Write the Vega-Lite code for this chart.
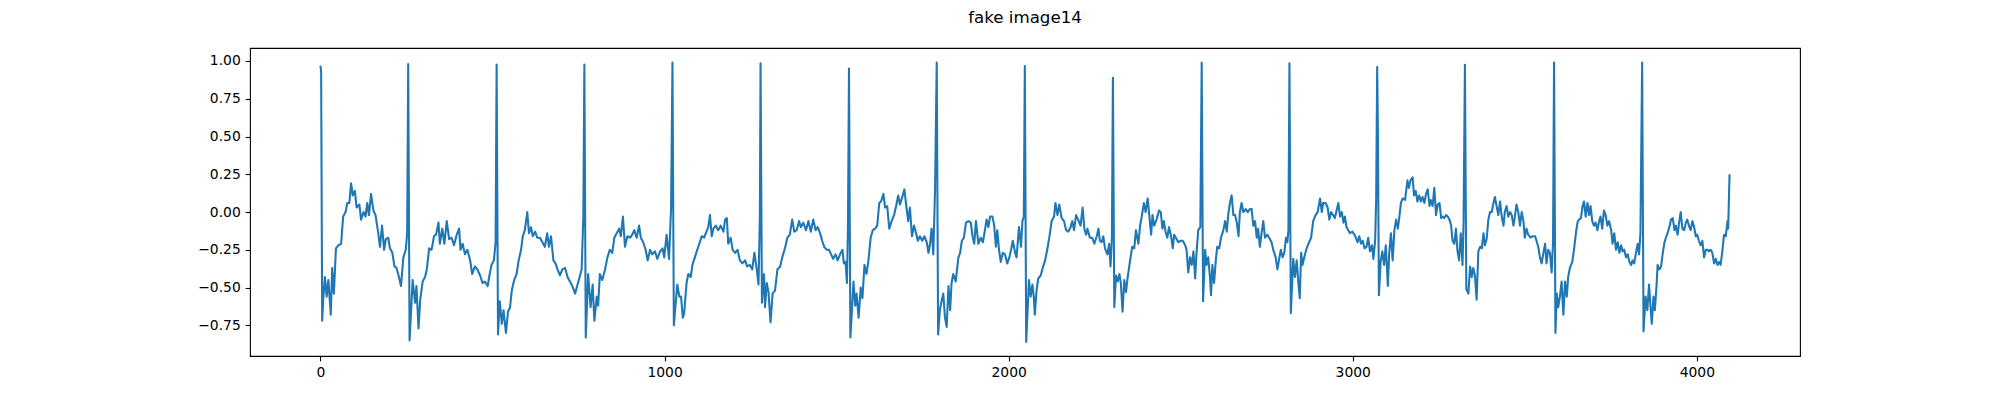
{
"$schema": "https://vega.github.io/schema/vega-lite/v6.json",
"width": 1550,
"height": 308,
"autosize": "none",
"padding": {"left": 250, "top": 48, "right": 200, "bottom": 44},
"background": "white",
"title": {"text": "fake image14", "font": "DejaVu Sans", "fontSize": 16.67, "fontWeight": "normal", "color": "black", "anchor": "middle", "baseline": "alphabetic", "offset": 8},
"config": {
  "view": {"stroke": "black", "strokeWidth": 1.11},
  "axis": {"domain": false, "grid": false, "labelFont": "DejaVu Sans", "labelFontSize": 13.89, "labelColor": "black", "tickColor": "black", "tickSize": 4.86, "tickWidth": 1.11, "labelPadding": 4.86, "title": null}
},
"data": {"values": [
{"x":0,"y":0.97},{"x":2,"y":0.93},{"x":5,"y":-0.72},{"x":8,"y":-0.58},{"x":13,"y":-0.43},{"x":18,"y":-0.56},{"x":23,"y":-0.45},{"x":30,"y":-0.68},{"x":34,"y":-0.37},{"x":39,"y":-0.54},{"x":45,"y":-0.24},{"x":52,"y":-0.22},{"x":60,"y":-0.21},{"x":66,"y":-0.03},{"x":73,"y":0.0},{"x":78,"y":0.06},{"x":84,"y":0.06},{"x":89,"y":0.19},{"x":94,"y":0.11},{"x":100,"y":0.14},{"x":105,"y":0.03},{"x":113,"y":0.05},{"x":118,"y":-0.05},{"x":125,"y":0.0},{"x":131,"y":-0.03},{"x":136,"y":0.06},{"x":141,"y":-0.02},{"x":147,"y":0.12},{"x":154,"y":0.01},{"x":160,"y":-0.02},{"x":168,"y":-0.14},{"x":173,"y":-0.23},{"x":179,"y":-0.09},{"x":185,"y":-0.25},{"x":190,"y":-0.18},{"x":197,"y":-0.17},{"x":202,"y":-0.24},{"x":209,"y":-0.27},{"x":215,"y":-0.36},{"x":221,"y":-0.37},{"x":227,"y":-0.42},{"x":234,"y":-0.49},{"x":241,"y":-0.30},{"x":248,"y":-0.25},{"x":252,"y":-0.14},
{"x":255,"y":0.98},{"x":259,"y":-0.85},{"x":268,"y":-0.45},{"x":275,"y":-0.60},{"x":279,"y":-0.49},{"x":285,"y":-0.77},{"x":290,"y":-0.58},{"x":297,"y":-0.46},{"x":304,"y":-0.43},{"x":309,"y":-0.38},{"x":316,"y":-0.24},{"x":323,"y":-0.25},{"x":330,"y":-0.16},{"x":336,"y":-0.15},{"x":343,"y":-0.07},{"x":347,"y":-0.21},{"x":354,"y":-0.11},{"x":360,"y":-0.21},{"x":367,"y":-0.06},{"x":374,"y":-0.18},{"x":381,"y":-0.17},{"x":388,"y":-0.22},{"x":396,"y":-0.15},{"x":403,"y":-0.11},{"x":407,"y":-0.25},{"x":413,"y":-0.21},{"x":420,"y":-0.28},{"x":427,"y":-0.25},{"x":435,"y":-0.32},{"x":441,"y":-0.41},{"x":449,"y":-0.36},{"x":456,"y":-0.38},{"x":464,"y":-0.42},{"x":471,"y":-0.47},{"x":478,"y":-0.46},{"x":486,"y":-0.49},{"x":491,"y":-0.42},{"x":497,"y":-0.35},{"x":504,"y":-0.32},{"x":509,"y":-0.20},
{"x":512,"y":0.977},{"x":516,"y":-0.81},{"x":521,"y":-0.59},{"x":527,"y":-0.74},{"x":532,"y":-0.65},{"x":539,"y":-0.80},{"x":545,"y":-0.66},{"x":551,"y":-0.63},{"x":556,"y":-0.52},{"x":563,"y":-0.45},{"x":570,"y":-0.41},{"x":576,"y":-0.32},{"x":583,"y":-0.25},{"x":588,"y":-0.16},{"x":594,"y":-0.12},{"x":601,"y":0.0},{"x":606,"y":-0.14},{"x":612,"y":-0.10},{"x":617,"y":-0.16},{"x":624,"y":-0.13},{"x":630,"y":-0.17},{"x":638,"y":-0.17},{"x":645,"y":-0.20},{"x":652,"y":-0.23},{"x":659,"y":-0.14},{"x":664,"y":-0.23},{"x":670,"y":-0.16},{"x":677,"y":-0.32},{"x":683,"y":-0.34},{"x":689,"y":-0.38},{"x":696,"y":-0.42},{"x":703,"y":-0.38},{"x":711,"y":-0.37},{"x":718,"y":-0.43},{"x":725,"y":-0.46},{"x":732,"y":-0.49},{"x":740,"y":-0.54},{"x":746,"y":-0.49},{"x":752,"y":-0.44},{"x":759,"y":-0.38},{"x":764,"y":-0.03},
{"x":767,"y":0.977},{"x":771,"y":-0.83},{"x":778,"y":-0.41},{"x":785,"y":-0.63},{"x":791,"y":-0.48},{"x":796,"y":-0.72},{"x":803,"y":-0.56},{"x":807,"y":-0.62},{"x":812,"y":-0.41},{"x":819,"y":-0.45},{"x":827,"y":-0.38},{"x":834,"y":-0.30},{"x":841,"y":-0.25},{"x":848,"y":-0.27},{"x":854,"y":-0.17},{"x":861,"y":-0.14},{"x":868,"y":-0.11},{"x":873,"y":-0.16},{"x":879,"y":-0.03},{"x":885,"y":-0.23},{"x":892,"y":-0.16},{"x":900,"y":-0.17},{"x":906,"y":-0.15},{"x":912,"y":-0.12},{"x":919,"y":-0.17},{"x":926,"y":-0.09},{"x":931,"y":-0.17},{"x":938,"y":-0.20},{"x":945,"y":-0.25},{"x":951,"y":-0.32},{"x":958,"y":-0.25},{"x":964,"y":-0.28},{"x":972,"y":-0.26},{"x":979,"y":-0.31},{"x":987,"y":-0.26},{"x":994,"y":-0.24},{"x":999,"y":-0.30},{"x":1006,"y":-0.15},{"x":1013,"y":-0.31},{"x":1019,"y":0.03},
{"x":1023,"y":0.99},{"x":1027,"y":-0.75},{"x":1037,"y":-0.48},{"x":1043,"y":-0.56},{"x":1048,"y":-0.56},{"x":1053,"y":-0.70},{"x":1057,"y":-0.67},{"x":1064,"y":-0.47},{"x":1069,"y":-0.41},{"x":1076,"y":-0.43},{"x":1081,"y":-0.35},{"x":1088,"y":-0.30},{"x":1095,"y":-0.25},{"x":1101,"y":-0.21},{"x":1108,"y":-0.16},{"x":1115,"y":-0.17},{"x":1120,"y":-0.14},{"x":1127,"y":-0.10},{"x":1132,"y":-0.02},{"x":1137,"y":-0.16},{"x":1142,"y":-0.11},{"x":1149,"y":-0.09},{"x":1156,"y":-0.12},{"x":1163,"y":-0.09},{"x":1171,"y":-0.13},{"x":1176,"y":-0.05},{"x":1181,"y":-0.04},{"x":1185,"y":-0.21},{"x":1192,"y":-0.17},{"x":1198,"y":-0.25},{"x":1205,"y":-0.27},{"x":1212,"y":-0.25},{"x":1219,"y":-0.32},{"x":1226,"y":-0.34},{"x":1234,"y":-0.32},{"x":1240,"y":-0.36},{"x":1248,"y":-0.35},{"x":1255,"y":-0.38},{"x":1261,"y":-0.27},{"x":1268,"y":-0.38},{"x":1273,"y":-0.48},{"x":1277,"y":-0.03},
{"x":1279,"y":0.985},{"x":1283,"y":-0.60},{"x":1289,"y":-0.41},{"x":1292,"y":-0.63},{"x":1297,"y":-0.47},{"x":1302,"y":-0.53},{"x":1308,"y":-0.73},{"x":1314,"y":-0.54},{"x":1321,"y":-0.52},{"x":1328,"y":-0.38},{"x":1336,"y":-0.36},{"x":1342,"y":-0.30},{"x":1350,"y":-0.24},{"x":1357,"y":-0.17},{"x":1364,"y":-0.15},{"x":1371,"y":-0.05},{"x":1377,"y":-0.13},{"x":1384,"y":-0.12},{"x":1391,"y":-0.06},{"x":1396,"y":-0.10},{"x":1403,"y":-0.07},{"x":1411,"y":-0.12},{"x":1418,"y":-0.06},{"x":1425,"y":-0.13},{"x":1432,"y":-0.05},{"x":1439,"y":-0.12},{"x":1445,"y":-0.10},{"x":1452,"y":-0.14},{"x":1458,"y":-0.19},{"x":1464,"y":-0.23},{"x":1471,"y":-0.25},{"x":1478,"y":-0.25},{"x":1484,"y":-0.28},{"x":1490,"y":-0.31},{"x":1497,"y":-0.28},{"x":1503,"y":-0.32},{"x":1510,"y":-0.28},{"x":1517,"y":-0.25},{"x":1521,"y":-0.34},{"x":1526,"y":-0.33},{"x":1530,"y":-0.47},{"x":1533,"y":-0.10},
{"x":1536,"y":0.95},{"x":1540,"y":-0.83},{"x":1545,"y":-0.63},{"x":1549,"y":-0.46},{"x":1554,"y":-0.62},{"x":1558,"y":-0.54},{"x":1564,"y":-0.70},{"x":1570,"y":-0.50},{"x":1575,"y":-0.57},{"x":1581,"y":-0.35},{"x":1587,"y":-0.41},{"x":1592,"y":-0.33},{"x":1599,"y":-0.17},{"x":1605,"y":-0.12},{"x":1612,"y":-0.11},{"x":1618,"y":-0.09},{"x":1624,"y":0.06},{"x":1629,"y":0.07},{"x":1636,"y":0.12},{"x":1641,"y":0.03},{"x":1647,"y":0.04},{"x":1653,"y":-0.11},{"x":1660,"y":-0.06},{"x":1667,"y":-0.02},{"x":1673,"y":0.04},{"x":1679,"y":0.11},{"x":1684,"y":0.05},{"x":1691,"y":0.10},{"x":1697,"y":0.15},{"x":1702,"y":0.05},{"x":1708,"y":-0.06},{"x":1713,"y":0.03},{"x":1719,"y":-0.16},{"x":1725,"y":-0.09},{"x":1731,"y":-0.14},{"x":1736,"y":-0.19},{"x":1742,"y":-0.16},{"x":1749,"y":-0.19},{"x":1755,"y":-0.16},{"x":1762,"y":-0.20},{"x":1767,"y":-0.27},{"x":1771,"y":-0.22},{"x":1776,"y":-0.11},{"x":1781,"y":-0.28},{"x":1786,"y":0.14},
{"x":1791,"y":0.99},{"x":1795,"y":-0.81},{"x":1800,"y":-0.65},{"x":1805,"y":-0.59},{"x":1810,"y":-0.54},{"x":1815,"y":-0.70},{"x":1820,"y":-0.76},{"x":1825,"y":-0.49},{"x":1830,"y":-0.65},{"x":1834,"y":-0.47},{"x":1839,"y":-0.41},{"x":1846,"y":-0.46},{"x":1854,"y":-0.30},{"x":1859,"y":-0.27},{"x":1864,"y":-0.19},{"x":1870,"y":-0.17},{"x":1876,"y":-0.07},{"x":1883,"y":-0.06},{"x":1890,"y":-0.07},{"x":1895,"y":-0.16},{"x":1900,"y":-0.21},{"x":1905,"y":-0.06},{"x":1912,"y":-0.21},{"x":1919,"y":-0.17},{"x":1925,"y":-0.20},{"x":1931,"y":-0.12},{"x":1936,"y":-0.05},{"x":1941,"y":-0.10},{"x":1946,"y":-0.03},{"x":1953,"y":-0.03},{"x":1958,"y":-0.09},{"x":1963,"y":-0.23},{"x":1967,"y":-0.12},{"x":1972,"y":-0.25},{"x":1977,"y":-0.33},{"x":1983,"y":-0.27},{"x":1989,"y":-0.28},{"x":1996,"y":-0.34},{"x":2002,"y":-0.30},{"x":2007,"y":-0.25},{"x":2012,"y":-0.19},{"x":2019,"y":-0.27},{"x":2023,"y":-0.30},{"x":2030,"y":-0.10},{"x":2036,"y":-0.23},{"x":2040,"y":-0.06},{"x":2044,"y":-0.03},
{"x":2047,"y":0.967},{"x":2051,"y":-0.86},{"x":2059,"y":-0.45},{"x":2064,"y":-0.56},{"x":2069,"y":-0.48},{"x":2073,"y":-0.56},{"x":2076,"y":-0.68},{"x":2081,"y":-0.52},{"x":2086,"y":-0.44},{"x":2093,"y":-0.42},{"x":2099,"y":-0.37},{"x":2106,"y":-0.32},{"x":2112,"y":-0.25},{"x":2118,"y":-0.17},{"x":2125,"y":-0.06},{"x":2132,"y":-0.03},{"x":2136,"y":0.06},{"x":2142,"y":-0.02},{"x":2147,"y":0.05},{"x":2154,"y":-0.04},{"x":2161,"y":-0.06},{"x":2167,"y":-0.12},{"x":2173,"y":-0.13},{"x":2180,"y":-0.10},{"x":2185,"y":-0.06},{"x":2190,"y":-0.12},{"x":2196,"y":-0.02},{"x":2202,"y":-0.05},{"x":2209,"y":-0.09},{"x":2215,"y":0.03},{"x":2220,"y":-0.11},{"x":2225,"y":-0.15},{"x":2229,"y":-0.11},{"x":2236,"y":-0.17},{"x":2243,"y":-0.17},{"x":2249,"y":-0.21},{"x":2256,"y":-0.16},{"x":2261,"y":-0.11},{"x":2265,"y":-0.19},{"x":2270,"y":-0.20},{"x":2275,"y":-0.16},{"x":2280,"y":-0.24},{"x":2287,"y":-0.28},{"x":2292,"y":-0.21},{"x":2296,"y":-0.36},{"x":2300,"y":-0.17},
{"x":2303,"y":0.889},{"x":2307,"y":-0.63},{"x":2312,"y":-0.42},{"x":2317,"y":-0.46},{"x":2322,"y":-0.41},{"x":2326,"y":-0.47},{"x":2331,"y":-0.66},{"x":2336,"y":-0.45},{"x":2341,"y":-0.53},{"x":2346,"y":-0.43},{"x":2353,"y":-0.32},{"x":2359,"y":-0.23},{"x":2365,"y":-0.24},{"x":2370,"y":-0.12},{"x":2377,"y":-0.21},{"x":2382,"y":-0.09},{"x":2386,"y":-0.04},{"x":2393,"y":0.06},{"x":2398,"y":0.0},{"x":2404,"y":0.09},{"x":2409,"y":-0.03},{"x":2414,"y":-0.15},{"x":2418,"y":-0.02},{"x":2423,"y":-0.09},{"x":2430,"y":-0.05},{"x":2437,"y":0.01},{"x":2442,"y":0.0},{"x":2447,"y":-0.11},{"x":2451,"y":-0.06},{"x":2456,"y":-0.13},{"x":2461,"y":-0.17},{"x":2466,"y":-0.10},{"x":2472,"y":-0.16},{"x":2477,"y":-0.24},{"x":2481,"y":-0.15},{"x":2486,"y":-0.17},{"x":2493,"y":-0.20},{"x":2500,"y":-0.19},{"x":2506,"y":-0.19},{"x":2513,"y":-0.22},{"x":2517,"y":-0.25},{"x":2522,"y":-0.40},{"x":2527,"y":-0.30},{"x":2532,"y":-0.35},{"x":2537,"y":-0.26},{"x":2542,"y":-0.44},{"x":2546,"y":-0.27},{"x":2551,"y":-0.12},{"x":2557,"y":-0.10},
{"x":2561,"y":0.99},{"x":2565,"y":-0.59},{"x":2571,"y":-0.25},{"x":2575,"y":-0.35},{"x":2580,"y":-0.30},{"x":2585,"y":-0.43},{"x":2588,"y":-0.55},{"x":2592,"y":-0.35},{"x":2597,"y":-0.47},{"x":2602,"y":-0.32},{"x":2606,"y":-0.23},{"x":2612,"y":-0.24},{"x":2617,"y":-0.17},{"x":2624,"y":-0.12},{"x":2629,"y":-0.06},{"x":2634,"y":-0.13},{"x":2638,"y":-0.02},{"x":2643,"y":0.06},{"x":2648,"y":0.11},{"x":2653,"y":-0.02},{"x":2658,"y":-0.02},{"x":2663,"y":-0.07},{"x":2668,"y":-0.16},{"x":2672,"y":0.0},{"x":2677,"y":0.06},{"x":2682,"y":0.0},{"x":2689,"y":0.02},{"x":2695,"y":0.0},{"x":2701,"y":0.02},{"x":2706,"y":0.02},{"x":2711,"y":-0.09},{"x":2716,"y":-0.06},{"x":2721,"y":-0.17},{"x":2725,"y":-0.11},{"x":2730,"y":-0.23},{"x":2735,"y":-0.14},{"x":2740,"y":-0.06},{"x":2745,"y":-0.17},{"x":2752,"y":-0.15},{"x":2757,"y":-0.17},{"x":2764,"y":-0.20},{"x":2769,"y":-0.25},{"x":2776,"y":-0.30},{"x":2781,"y":-0.38},{"x":2786,"y":-0.31},{"x":2791,"y":-0.25},{"x":2796,"y":-0.30},{"x":2801,"y":-0.27},{"x":2806,"y":-0.17},{"x":2810,"y":-0.20},{"x":2813,"y":-0.12},
{"x":2816,"y":0.985},{"x":2820,"y":-0.67},{"x":2827,"y":-0.31},{"x":2832,"y":-0.43},{"x":2837,"y":-0.32},{"x":2842,"y":-0.47},{"x":2846,"y":-0.57},{"x":2850,"y":-0.27},{"x":2854,"y":-0.35},{"x":2859,"y":-0.30},{"x":2866,"y":-0.24},{"x":2873,"y":-0.20},{"x":2879,"y":-0.17},{"x":2885,"y":-0.06},{"x":2892,"y":-0.02},{"x":2898,"y":0.0},{"x":2905,"y":0.09},{"x":2910,"y":0.0},{"x":2914,"y":0.06},{"x":2921,"y":0.06},{"x":2927,"y":0.03},{"x":2932,"y":-0.05},{"x":2937,"y":0.0},{"x":2943,"y":-0.02},{"x":2948,"y":-0.04},{"x":2953,"y":0.01},{"x":2958,"y":0.06},{"x":2963,"y":-0.03},{"x":2968,"y":0.0},{"x":2973,"y":-0.07},{"x":2977,"y":-0.03},{"x":2982,"y":-0.10},{"x":2987,"y":-0.12},{"x":2992,"y":-0.14},{"x":2999,"y":-0.13},{"x":3005,"y":-0.15},{"x":3009,"y":-0.17},{"x":3014,"y":-0.20},{"x":3019,"y":-0.16},{"x":3024,"y":-0.21},{"x":3029,"y":-0.19},{"x":3034,"y":-0.24},{"x":3040,"y":-0.23},{"x":3045,"y":-0.17},{"x":3050,"y":-0.26},{"x":3056,"y":-0.22},{"x":3060,"y":-0.31},{"x":3065,"y":-0.19},{"x":3068,"y":0.08},
{"x":3071,"y":0.96},{"x":3073,"y":0.55},{"x":3076,"y":-0.55},{"x":3081,"y":-0.33},{"x":3086,"y":-0.26},{"x":3091,"y":-0.35},{"x":3096,"y":-0.22},{"x":3102,"y":-0.49},{"x":3106,"y":-0.27},{"x":3111,"y":-0.14},{"x":3116,"y":-0.32},{"x":3121,"y":-0.12},{"x":3126,"y":-0.05},{"x":3131,"y":-0.11},{"x":3135,"y":-0.04},{"x":3140,"y":0.06},{"x":3145,"y":0.09},{"x":3152,"y":0.08},{"x":3159,"y":0.21},{"x":3163,"y":0.16},{"x":3168,"y":0.21},{"x":3174,"y":0.23},{"x":3178,"y":0.11},{"x":3183,"y":0.14},{"x":3188,"y":0.07},{"x":3193,"y":0.11},{"x":3198,"y":0.07},{"x":3203,"y":0.10},{"x":3208,"y":0.06},{"x":3213,"y":0.12},{"x":3218,"y":0.15},{"x":3223,"y":0.04},{"x":3227,"y":0.08},{"x":3232,"y":0.04},{"x":3237,"y":0.16},{"x":3242,"y":-0.02},{"x":3247,"y":0.05},{"x":3252,"y":0.06},{"x":3257,"y":-0.04},{"x":3261,"y":-0.03},{"x":3266,"y":-0.04},{"x":3271,"y":-0.02},{"x":3276,"y":-0.03},{"x":3281,"y":-0.05},{"x":3286,"y":-0.09},{"x":3290,"y":-0.19},{"x":3295,"y":-0.21},{"x":3300,"y":-0.11},{"x":3304,"y":-0.25},{"x":3309,"y":-0.32},{"x":3314,"y":-0.14},{"x":3319,"y":-0.35},{"x":3322,"y":-0.07},
{"x":3326,"y":0.975},{"x":3330,"y":-0.51},{"x":3336,"y":-0.54},{"x":3341,"y":-0.36},{"x":3346,"y":-0.43},{"x":3350,"y":-0.37},{"x":3355,"y":-0.42},{"x":3360,"y":-0.58},{"x":3365,"y":-0.26},{"x":3370,"y":-0.23},{"x":3375,"y":-0.24},{"x":3380,"y":-0.14},{"x":3384,"y":-0.22},{"x":3389,"y":-0.18},{"x":3394,"y":-0.05},{"x":3399,"y":0.0},{"x":3404,"y":0.0},{"x":3408,"y":0.05},{"x":3413,"y":0.10},{"x":3418,"y":0.04},{"x":3423,"y":-0.02},{"x":3428,"y":0.07},{"x":3433,"y":-0.03},{"x":3438,"y":-0.09},{"x":3442,"y":0.0},{"x":3447,"y":0.04},{"x":3452,"y":-0.03},{"x":3457,"y":0.0},{"x":3462,"y":-0.02},{"x":3467,"y":-0.09},{"x":3471,"y":-0.03},{"x":3476,"y":0.05},{"x":3481,"y":0.0},{"x":3486,"y":-0.09},{"x":3491,"y":0.0},{"x":3496,"y":-0.06},{"x":3500,"y":-0.17},{"x":3505,"y":-0.11},{"x":3510,"y":-0.15},{"x":3517,"y":-0.17},{"x":3523,"y":-0.16},{"x":3530,"y":-0.16},{"x":3534,"y":-0.19},{"x":3539,"y":-0.23},{"x":3544,"y":-0.30},{"x":3549,"y":-0.34},{"x":3554,"y":-0.27},{"x":3559,"y":-0.21},{"x":3563,"y":-0.34},{"x":3568,"y":-0.25},{"x":3573,"y":-0.27},{"x":3578,"y":-0.40},{"x":3582,"y":-0.20},
{"x":3585,"y":0.99},{"x":3589,"y":-0.80},{"x":3593,"y":-0.54},{"x":3597,"y":-0.63},{"x":3602,"y":-0.56},{"x":3607,"y":-0.46},{"x":3612,"y":-0.68},{"x":3617,"y":-0.46},{"x":3622,"y":-0.56},{"x":3626,"y":-0.43},{"x":3631,"y":-0.37},{"x":3638,"y":-0.33},{"x":3644,"y":-0.23},{"x":3649,"y":-0.13},{"x":3654,"y":-0.06},{"x":3658,"y":-0.05},{"x":3663,"y":-0.04},{"x":3668,"y":0.04},{"x":3672,"y":0.07},{"x":3677,"y":-0.03},{"x":3682,"y":0.06},{"x":3687,"y":-0.02},{"x":3691,"y":0.04},{"x":3696,"y":-0.06},{"x":3701,"y":-0.09},{"x":3706,"y":-0.07},{"x":3711,"y":-0.12},{"x":3716,"y":-0.06},{"x":3720,"y":-0.03},{"x":3725,"y":-0.11},{"x":3730,"y":0.01},{"x":3735,"y":-0.02},{"x":3740,"y":-0.09},{"x":3745,"y":-0.06},{"x":3751,"y":-0.12},{"x":3755,"y":-0.21},{"x":3760,"y":-0.14},{"x":3765,"y":-0.25},{"x":3770,"y":-0.20},{"x":3775,"y":-0.27},{"x":3780,"y":-0.22},{"x":3784,"y":-0.26},{"x":3789,"y":-0.25},{"x":3794,"y":-0.30},{"x":3799,"y":-0.28},{"x":3804,"y":-0.33},{"x":3809,"y":-0.35},{"x":3813,"y":-0.32},{"x":3818,"y":-0.34},{"x":3823,"y":-0.27},{"x":3828,"y":-0.21},{"x":3832,"y":-0.28},{"x":3836,"y":-0.14},
{"x":3841,"y":0.99},{"x":3845,"y":-0.79},{"x":3851,"y":-0.56},{"x":3856,"y":-0.65},{"x":3861,"y":-0.48},{"x":3866,"y":-0.65},{"x":3869,"y":-0.74},{"x":3874,"y":-0.56},{"x":3878,"y":-0.65},{"x":3883,"y":-0.48},{"x":3886,"y":-0.35},{"x":3891,"y":-0.38},{"x":3896,"y":-0.36},{"x":3901,"y":-0.27},{"x":3906,"y":-0.20},{"x":3910,"y":-0.17},{"x":3915,"y":-0.14},{"x":3920,"y":-0.10},{"x":3925,"y":-0.05},{"x":3930,"y":-0.04},{"x":3935,"y":-0.12},{"x":3939,"y":-0.09},{"x":3944,"y":-0.15},{"x":3949,"y":-0.06},{"x":3953,"y":0.0},{"x":3958,"y":-0.11},{"x":3963,"y":-0.12},{"x":3968,"y":-0.07},{"x":3972,"y":-0.05},{"x":3977,"y":-0.09},{"x":3982,"y":-0.12},{"x":3987,"y":-0.06},{"x":3992,"y":-0.10},{"x":3997,"y":-0.16},{"x":4001,"y":-0.15},{"x":4006,"y":-0.19},{"x":4011,"y":-0.22},{"x":4016,"y":-0.19},{"x":4021,"y":-0.30},{"x":4026,"y":-0.25},{"x":4031,"y":-0.25},{"x":4035,"y":-0.26},{"x":4040,"y":-0.25},{"x":4045,"y":-0.27},{"x":4050,"y":-0.34},{"x":4055,"y":-0.31},{"x":4060,"y":-0.35},{"x":4065,"y":-0.33},{"x":4069,"y":-0.35},{"x":4074,"y":-0.26},{"x":4079,"y":-0.15},{"x":4084,"y":-0.16},{"x":4089,"y":-0.06},{"x":4091,"y":-0.11},{"x":4095,"y":0.25}
]},
"mark": {"type": "line", "color": "#1f77b4", "strokeWidth": 2.08, "strokeJoin": "round", "strokeCap": "butt"},
"encoding": {
  "x": {"field": "x", "type": "quantitative", "scale": {"domain": [-204.75, 4299.75], "nice": false, "zero": false}, "axis": {"values": [0, 1000, 2000, 3000, 4000], "format": "d"}},
  "y": {"field": "y", "type": "quantitative", "scale": {"domain": [-0.953, 1.086], "nice": false, "zero": false}, "axis": {"values": [-0.75, -0.5, -0.25, 0, 0.25, 0.5, 0.75, 1.0], "format": ".2f"}}
}
}
